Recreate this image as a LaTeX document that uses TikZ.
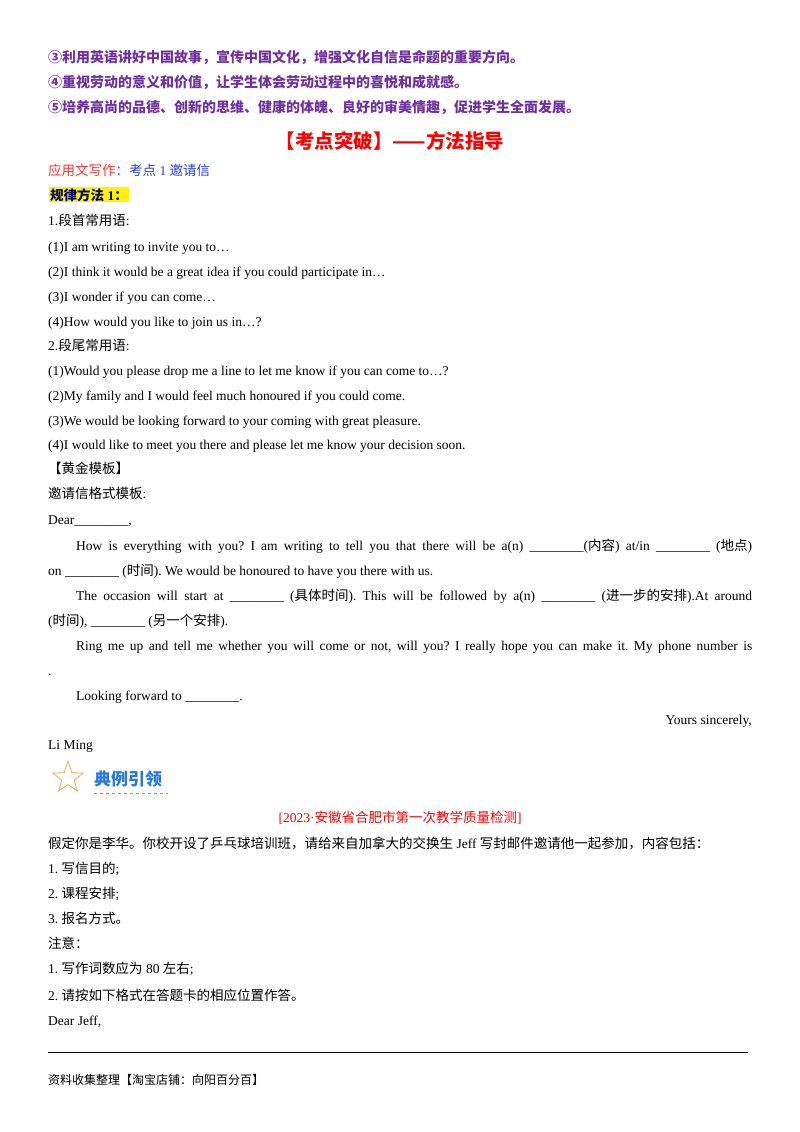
\documentclass[tikz,border=0pt]{standalone}
\usepackage{fontspec}
\setmainfont{Liberation Serif}
\newfontfamily\cjk{Noto Sans CJK SC}
\definecolor{pur}{RGB}{112,48,160}
\definecolor{myblue}{RGB}{40,60,220}
\definecolor{starc}{RGB}{235,170,80}
\definecolor{hdblue}{RGB}{40,120,220}
\newcommand{\C}[1]{{\cjk #1}}
\frenchspacing
\tikzset{t/.style={anchor=base west,inner sep=0pt,font=\fontsize{13.5}{16}\selectfont\frenchspacing},
 pl/.style={t,text=pur,font=\fontsize{14}{16}\selectfont\cjk\bfseries}}
\begin{document}
\begin{tikzpicture}[x=1pt,y=1pt]
\useasboundingbox (0,0) rectangle (800,-1132);
\node[pl] (p3) at (48,-63) {③利用英语讲好中国故事，宣传中国文化，增强文化自信是命题的重要方向。};
\node[pl] (p4) at (48,-88) {④重视劳动的意义和价值，让学生体会劳动过程中的喜悦和成就感。};
\node[pl] (p5) at (48,-112) {⑤培养高尚的品德、创新的思维、健康的体魄、良好的审美情趣，促进学生全面发展。};
\node[t,anchor=base,text=red,font=\fontsize{19.5}{22}\selectfont\cjk\bfseries] (title) at (390,-148) {【考点突破】——方法指导};
\node[t] (sub) at (48,-175) {\textcolor{red!80!white}{\C{应用文写作：}}\textcolor{myblue}{\C{考点} 1 \C{邀请信}}};
\node[t,fill=yellow,inner sep=1pt,text=blue!40!black,font=\fontsize{13.5}{16}\selectfont\bfseries] (gl) at (49,-200) {\C{规律方法} 1\C{：}};
\node[t] (a1) at (48,-225) {1.\C{段首常用语}:};
\node[t] (a2) at (48,-251) {(1)I am writing to invite you to…};
\node[t] (a3) at (48,-276) {(2)I think it would be a great idea if you could participate in…};
\node[t] (a4) at (48,-301) {(3)I wonder if you can come…};
\node[t] (a5) at (48,-326) {(4)How would you like to join us in…?};
\node[t] (b1) at (48,-350) {2.\C{段尾常用语}:};
\node[t] (b2) at (48,-375) {(1)Would you please drop me a line to let me know if you can come to…?};
\node[t] (b3) at (48,-400) {(2)My family and I would feel much honoured if you could come.};
\node[t] (b4) at (48,-425) {(3)We would be looking forward to your coming with great pleasure.};
\node[t] (b5) at (48,-449) {(4)I would like to meet you there and please let me know your decision soon.};
\node[t] (c1) at (48,-473) {\C{【黄金模板】}};
\node[t] (c2) at (48,-498) {\C{邀请信格式模板}:};
\node[t] (c3) at (48,-524) {Dear\_\_\_\_\_\_\_\_,};
\node[t] (c4) at (76,-550) {\makebox[676pt][s]{How is everything with you? I am writing to tell you that there will be a(n) \_\_\_\_\_\_\_\_(\C{内容}) at/in \_\_\_\_\_\_\_\_ (\C{地点})}};
\node[t] (c5) at (48,-575) {on \_\_\_\_\_\_\_\_ (\C{时间}). We would be honoured to have you there with us.};
\node[t] (c6) at (76,-600) {\makebox[676pt][s]{The occasion will start at \_\_\_\_\_\_\_\_ (\C{具体时间}). This will be followed by a(n) \_\_\_\_\_\_\_\_ (\C{进一步的安排}).At around}};
\node[t] (c7) at (48,-625) {(\C{时间}), \_\_\_\_\_\_\_\_ (\C{另一个安排}).};
\node[t] (c8) at (76,-650) {\makebox[676pt][s]{Ring me up and tell me whether you will come or not, will you? I really hope you can make it. My phone number is}};
\node[t] (c9) at (48,-675) {.};
\node[t] (c10) at (76,-700) {Looking forward to \_\_\_\_\_\_\_\_.};
\node[t,anchor=base east] (c11) at (752,-724) {Yours sincerely,};
\node[t] (c12) at (48,-749) {Li Ming};
\draw[starc,line width=0.8pt] (68,-761)
 \foreach \i in {1,...,9}{ -- ({68+ifthenelse(mod(\i,2)==0,16,6.5)*cos(90+36*\i)},{-778+ifthenelse(mod(\i,2)==0,16,6.5)*sin(90+36*\i)}) } -- cycle;
\node[t,text=hdblue,font=\fontsize{17}{19}\selectfont\cjk\bfseries] (hd) at (94,-785) {典例引领};
\draw[hdblue!70,dashed,line width=0.8pt] (94,-793) -- (168,-793);
\node[t,anchor=base,text=red] (src) at (400,-822) {[2023·\C{安徽省合肥市第一次教学质量检测}]};
\node[t] (d1) at (48,-848) {\C{假定你是李华。你校开设了乒乓球培训班，请给来自加拿大的交换生} Jeff \C{写封邮件邀请他一起参加，内容包括：}};
\node[t] (d2) at (48,-873) {1. \C{写信目的};};
\node[t] (d3) at (48,-898) {2. \C{课程安排};};
\node[t] (d4) at (48,-923) {3. \C{报名方式。}};
\node[t] (d5) at (48,-948) {\C{注意：}};
\node[t] (d6) at (48,-973) {1. \C{写作词数应为} 80 \C{左右};};
\node[t] (d7) at (48,-1000) {2. \C{请按如下格式在答题卡的相应位置作答。}};
\node[t] (d8) at (48,-1025) {Dear Jeff,};
\draw[line width=0.6pt] (48,-1052) -- (748,-1052);
\node[t,font=\fontsize{12}{14}\selectfont] (ft) at (48,-1084) {\C{资料收集整理【淘宝店铺：向阳百分百】}};
\end{tikzpicture}
\end{document}
